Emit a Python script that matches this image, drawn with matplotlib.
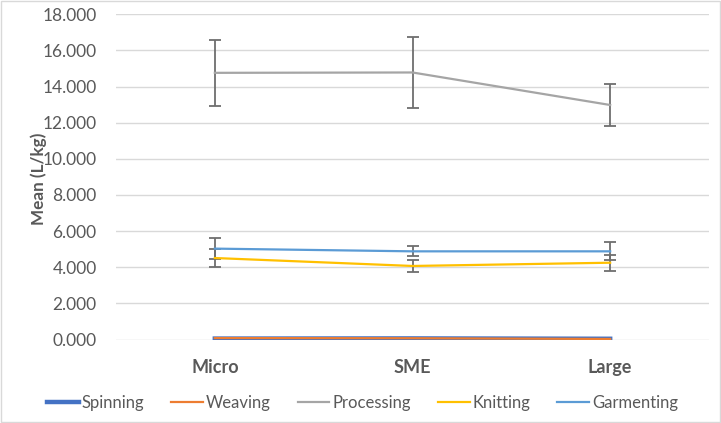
import matplotlib
matplotlib.use('Agg')
import matplotlib.pyplot as plt
from matplotlib.lines import Line2D
import numpy as np

# data
sizes = ['Micro', 'SME', 'Large']
series = ['Spinning', 'Weaving', 'Processing', 'Knitting', 'Garmenting']
spinning = [0.05, 0.06, 0.04]
weaving = [0.08, 0.07, 0.03]
processing = [14.76, 14.78, 12.98]
processing_err = [1.82, 1.94, 1.18]
knitting = [4.51, 4.07, 4.25]
knitting_err = [0.48, 0.35, 0.44]
garmenting = [5.03, 4.88, 4.88]
garmenting_err = [0.57, 0.28, 0.49]

colors = ['#4472C4', '#ED7D31', '#A5A5A5', '#FFC000', '#5B9BD5']
err_color = '#6E6E6E'
txt = '#595959'

plt.rcParams['font.family'] = ['Lato', 'DejaVu Sans']

fig = plt.figure(figsize=(7.21, 4.23), dpi=100)
ax = fig.add_axes([116/721, 1 - 339.5/423, (709-116)/721, (339.5-14.3)/423])
x = np.arange(len(sizes))

ax.plot(x, spinning, color=colors[0], lw=3.2, label=series[0], zorder=3)
ax.plot(x, weaving, color=colors[1], lw=1.6, label=series[1], zorder=4)
ax.errorbar(x, processing, yerr=processing_err, color=colors[2], lw=1.6,
            ecolor=err_color, elinewidth=1.3, capsize=4, capthick=1.3, zorder=3)
ax.errorbar(x, knitting, yerr=knitting_err, color=colors[3], lw=1.6,
            ecolor=err_color, elinewidth=1.3, capsize=4, capthick=1.3, zorder=3)
ax.errorbar(x, garmenting, yerr=garmenting_err, color=colors[4], lw=1.6,
            ecolor=err_color, elinewidth=1.3, capsize=4, capthick=1.3, zorder=3)

ax.set_xlim(-0.5, 2.5)
ax.set_ylim(0, 18)
yt = np.arange(0, 18.1, 2)
ax.set_yticks(yt)
ax.set_yticklabels(['%.3f' % v for v in yt], fontsize=12.5, color=txt)
ax.set_xticks(x)
ax.set_xticklabels(sizes, fontsize=13, fontweight='bold', color=txt)
ax.tick_params(axis='y', length=0, pad=14)
ax.tick_params(axis='x', length=0, pad=14)
ax.grid(axis='y', color='#D9D9D9', lw=1)
ax.set_axisbelow(True)
for s in ax.spines.values():
    s.set_visible(False)
ax.set_ylabel('Mean (L/kg)', fontsize=12.3, fontweight='bold', color=txt)
ax.yaxis.set_label_coords(-0.116, 0.495)

leg_handles = [Line2D([0], [0], color=colors[i], lw=(3.2 if i == 0 else 1.6)) for i in range(5)]
fig.legend(leg_handles, series, loc='center', bbox_to_anchor=(0.503, 1 - 403/423), ncol=5,
           frameon=False, fontsize=12, handlelength=1.9, handletextpad=0.2, columnspacing=1.6,
           labelcolor=txt)

fig.patches.append(plt.Rectangle((0.001, 0.002), 0.997, 0.996, transform=fig.transFigure,
                                 fill=False, edgecolor='#D9D9D9', lw=1))

fig.savefig('out.png', dpi=100)
